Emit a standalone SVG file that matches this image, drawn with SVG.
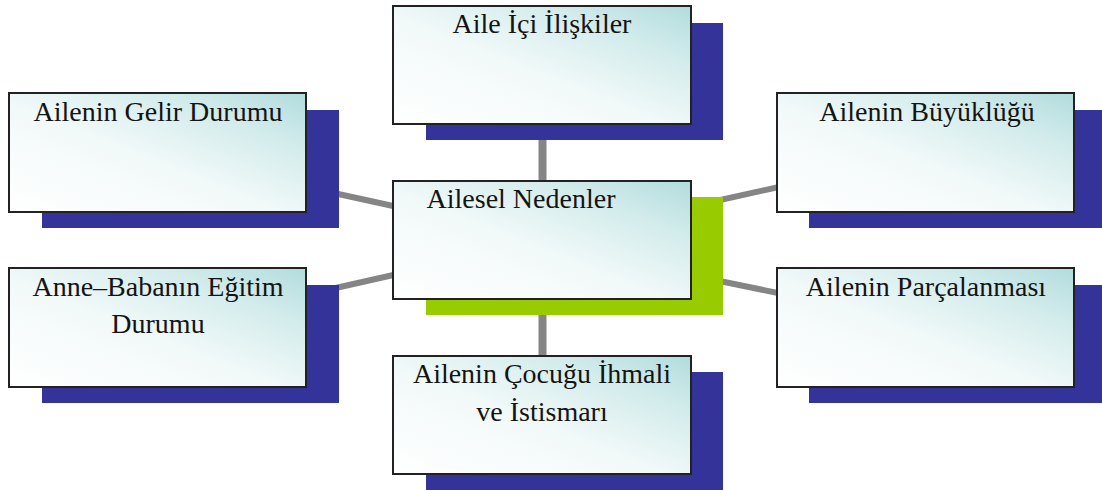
<svg xmlns="http://www.w3.org/2000/svg" width="1102" height="490" viewBox="0 0 1102 490">
<defs>
<linearGradient id="g" x1="0" y1="1" x2="1" y2="0">
<stop offset="0" stop-color="#ffffff"/>
<stop offset="0.45" stop-color="#f2f9f9"/>
<stop offset="0.75" stop-color="#d4ecec"/>
<stop offset="1" stop-color="#b2dcdd"/>
</linearGradient>
<style>
.sh{fill:#333399}
.gr{fill:#99cc00}
.bx{fill:url(#g);stroke:#222;stroke-width:2}
.t{font-size:28px;fill:#141414;text-anchor:middle}
.c{stroke:#858585;stroke-width:6;fill:none}
.v{stroke:#858585;stroke-width:8;fill:none}
</style>
</defs>
<rect width="1102" height="490" fill="#ffffff"/>
<g id="connectors">
<line class="v" x1="542.5" y1="120" x2="542.5" y2="185"/>
<line class="v" x1="542.5" y1="295" x2="542.5" y2="360"/>
<line class="c" x1="320" y1="190" x2="400" y2="207.5"/>
<line class="c" x1="320" y1="291.5" x2="400" y2="273.5"/>
<line class="c" x1="700" y1="204.5" x2="790" y2="184.5"/>
<line class="c" x1="700" y1="277" x2="790" y2="295.5"/>
</g>
<g font-family="Liberation Serif, Times New Roman, serif">
<g id="n-top">
<rect class="sh" x="426" y="23" width="297" height="117"/>
<rect class="bx" x="393" y="6" width="298" height="118"/>
<text class="t" x="542" y="33">Aile İçi İlişkiler</text>
</g>
<g id="n-center">
<rect class="gr" x="426" y="197" width="297" height="118"/>
<rect class="bx" x="393" y="181" width="298" height="118"/>
<text class="t" x="521" y="208">Ailesel Nedenler</text>
</g>
<g id="n-gelir">
<rect class="sh" x="42" y="110" width="297" height="118"/>
<rect class="bx" x="9" y="93" width="297" height="119"/>
<text class="t" x="158" y="121">Ailenin Gelir Durumu</text>
</g>
<g id="n-egitim">
<rect class="sh" x="42" y="285" width="297" height="118"/>
<rect class="bx" x="9" y="268" width="297" height="119"/>
<text class="t" x="158" y="296">Anne–Babanın Eğitim</text>
<text class="t" x="158" y="333">Durumu</text>
</g>
<g id="n-buyukluk">
<rect class="sh" x="809" y="110" width="293" height="118"/>
<rect class="bx" x="777" y="93" width="297" height="119"/>
<text class="t" x="927" y="121">Ailenin Büyüklüğü</text>
</g>
<g id="n-parcalanma">
<rect class="sh" x="809" y="285" width="293" height="118"/>
<rect class="bx" x="777" y="268" width="297" height="119"/>
<text class="t" x="926" y="296">Ailenin Parçalanması</text>
</g>
<g id="n-ihmal">
<rect class="sh" x="426" y="372" width="297" height="118"/>
<rect class="bx" x="393" y="356" width="298" height="118"/>
<text class="t" x="542" y="383">Ailenin Çocuğu İhmali</text>
<text class="t" x="542" y="421">ve İstismarı</text>
</g>
</g>
</svg>
